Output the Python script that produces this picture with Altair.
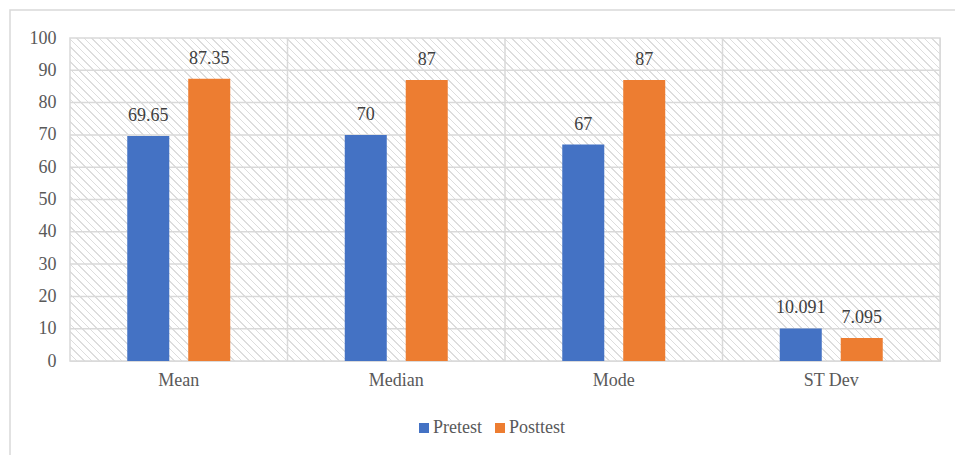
import altair as alt
import pandas as pd

categories = ["Mean", "Median", "Mode", "ST Dev"]
series = ["Pretest", "Posttest"]
pretest = [69.65, 70, 67, 10.091]
posttest = [87.35, 87, 87, 7.095]
pre_labels = ["69.65", "70", "67", "10.091"]
post_labels = ["87.35", "87", "87", "7.095"]
y_ticks = [0, 10, 20, 30, 40, 50, 60, 70, 80, 90, 100]
colors = ["#4472C4", "#ED7D31"]

rows = []
for i, c in enumerate(categories):
    rows.append({"cat": c, "series": "Pretest", "value": pretest[i], "label": pre_labels[i]})
    rows.append({"cat": c, "series": "Posttest", "value": posttest[i], "label": post_labels[i]})
df = pd.DataFrame(rows)

W, H = 870, 323
FONT = "Liberation Serif"
GRID = "#d9d9d9"
FS = 18

# diagonal hatch fill built as a striped linear gradient
r = H / W
s = (1 + r) / (1 + r * r)
N = round((W + H) / 7.5)
f = 0.2
stops = []
for k in range(N):
    o0 = k / N
    o1 = (k + 1 - f) / N
    o2 = (k + 1) / N
    stops += [
        alt.GradientStop(offset=o0, color="#ffffff"),
        alt.GradientStop(offset=o1, color="#ffffff"),
        alt.GradientStop(offset=o1, color="#dddddd"),
        alt.GradientStop(offset=o2, color="#dddddd"),
    ]
hatch_grad = alt.LinearGradient(gradient="linear", stops=stops,
                                x1=0, y1=1, x2=s, y2=1 - s * r)

one = pd.DataFrame({"a": [0]})

x_axis = alt.Axis(title=None, labelFont=FONT, labelFontSize=FS, labelColor="#595959",
                  ticks=False, tickSize=0, domain=False, grid=False, labelPadding=10,
                  labelAngle=0)
y_axis = alt.Axis(title=None, labelFont=FONT, labelFontSize=FS, labelColor="#595959",
                  ticks=False, tickSize=0, domain=False, grid=False, labelPadding=14,
                  values=y_ticks)
x_scale = alt.Scale(paddingInner=0, paddingOuter=0, domain=categories)
y_scale = alt.Scale(domain=[0, 100], nice=False)

border = alt.Chart(one).mark_rect(filled=False, stroke=GRID, strokeWidth=1.5).encode(
    x=alt.value(-60), x2=alt.value(900), y=alt.value(-28), y2=alt.value(440)
)

hatch = alt.Chart(one).mark_rect(fill=hatch_grad, stroke=GRID, strokeWidth=1.5).encode(
    x=alt.value(0), x2=alt.value(W), y=alt.value(0), y2=alt.value(H)
)

hgrid = alt.Chart(pd.DataFrame({"v": y_ticks[1:-1]})).mark_rule(color=GRID, strokeWidth=1.5).encode(
    y=alt.Y("v:Q", scale=y_scale, axis=y_axis),
    x=alt.value(0), x2=alt.value(W)
)

vgrid = alt.Chart(pd.DataFrame({"cat": categories[1:]})).mark_rule(color=GRID, strokeWidth=1.5).encode(
    x=alt.X("cat:N", sort=categories, scale=x_scale, axis=x_axis, bandPosition=0),
    y=alt.value(0), y2=alt.value(H)
)

xo = alt.XOffset("series:N", sort=series,
                 scale=alt.Scale(domain=series, paddingInner=0.311, paddingOuter=0.939))

bars = alt.Chart(df).mark_bar().encode(
    x=alt.X("cat:N", sort=categories, scale=x_scale, axis=x_axis),
    xOffset=xo,
    y=alt.Y("value:Q", scale=y_scale, axis=y_axis),
    color=alt.Color("series:N", sort=series,
                    scale=alt.Scale(domain=series, range=colors),
                    legend=alt.Legend(title=None, orient="none", direction="horizontal",
                                      legendX=345, legendY=381, symbolType="square",
                                      symbolSize=100, symbolStrokeWidth=0,
                                      labelFont=FONT, labelFontSize=FS,
                                      labelColor="#595959", columnPadding=9,
                                      labelOffset=0, padding=0)),
)

labels = alt.Chart(df).mark_text(baseline="bottom", dy=-11, font=FONT, fontSize=FS,
                                 color="#404040").encode(
    x=alt.X("cat:N", sort=categories, scale=x_scale, axis=x_axis),
    xOffset=xo,
    y=alt.Y("value:Q", scale=y_scale, axis=y_axis),
    text="label:N",
)

chart = alt.layer(border, hatch, hgrid, vgrid, bars, labels).properties(
    width=W, height=H,
    autosize=alt.AutoSizeParams(type="none"),
    padding={"left": 70, "top": 38, "right": 15, "bottom": 94},
).configure_view(stroke=None).configure(background="white", font=FONT)

chart.save("out.html", embed_options={"renderer": "svg", "actions": False})
